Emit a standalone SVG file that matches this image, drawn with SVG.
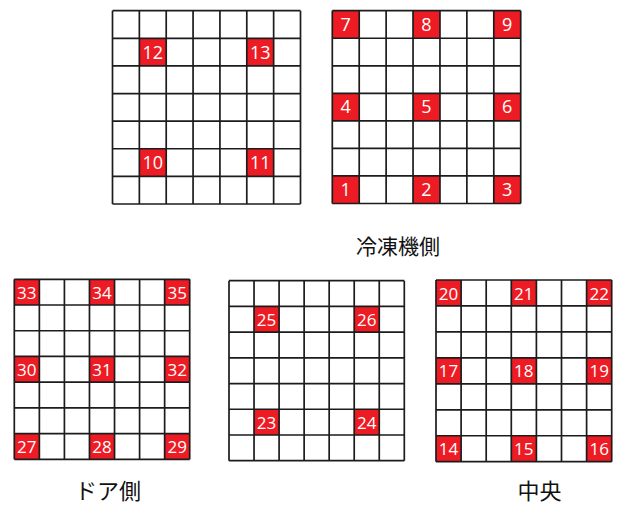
<svg xmlns="http://www.w3.org/2000/svg" width="617" height="505" viewBox="0 0 617 505">
<style>
.bg{fill:#ffffff}
.red{fill:#ED1C24}
.ln{fill:none;stroke:#1c1c1c;stroke-width:1.7}
.n{font-family:"Open Sans","Liberation Sans",sans-serif;fill:#ffffff;text-anchor:middle}
.n1{font-size:18px}
.n2{font-size:17px}
.lab{font-family:"Noto Sans CJK JP","Noto Sans CJK SC",sans-serif;font-size:21px;fill:#111;text-anchor:middle}
</style>
<rect width="617" height="505" fill="#ffffff"/>

<g id="grid-top-left">
<rect class="red" x="139.36" y="38.31" width="26.85" height="27.62"/>
<rect class="red" x="246.79" y="38.31" width="26.85" height="27.62"/>
<rect class="red" x="139.36" y="148.77" width="26.85" height="27.62"/>
<rect class="red" x="246.79" y="148.77" width="26.85" height="27.62"/>
<path class="ln" d="M112.5 10.7V204M139.36 10.7V204M166.21 10.7V204M193.07 10.7V204M219.93 10.7V204M246.79 10.7V204M273.64 10.7V204M300.5 10.7V204M112.5 10.7H300.5M112.5 38.31H300.5M112.5 65.93H300.5M112.5 93.54H300.5M112.5 121.16H300.5M112.5 148.77H300.5M112.5 176.39H300.5M112.5 204H300.5"/>
<text class="n n1" x="152.8" y="58.5">12</text>
<text class="n n1" x="260.2" y="58.5">13</text>
<text class="n n1" x="152.8" y="169">10</text>
<text class="n n1" x="260.2" y="169">11</text>
</g>

<g id="grid-top-right">
<rect class="red" x="332.3" y="10.7" width="26.91" height="27.54"/>
<rect class="red" x="413.04" y="10.7" width="26.92" height="27.54"/>
<rect class="red" x="493.79" y="10.7" width="26.91" height="27.54"/>
<rect class="red" x="332.3" y="93.33" width="26.91" height="27.54"/>
<rect class="red" x="413.04" y="93.33" width="26.92" height="27.54"/>
<rect class="red" x="493.79" y="93.33" width="26.91" height="27.54"/>
<rect class="red" x="332.3" y="175.96" width="26.91" height="27.54"/>
<rect class="red" x="413.04" y="175.96" width="26.92" height="27.54"/>
<rect class="red" x="493.79" y="175.96" width="26.91" height="27.54"/>
<path class="ln" d="M332.3 10.7V203.5M359.21 10.7V203.5M386.13 10.7V203.5M413.04 10.7V203.5M439.96 10.7V203.5M466.87 10.7V203.5M493.79 10.7V203.5M520.7 10.7V203.5M332.3 10.7H520.7M332.3 38.24H520.7M332.3 65.79H520.7M332.3 93.33H520.7M332.3 120.87H520.7M332.3 148.41H520.7M332.3 175.96H520.7M332.3 203.5H520.7"/>
<text class="n n1" x="345.76" y="30.8">7</text>
<text class="n n1" x="426.5" y="30.8">8</text>
<text class="n n1" x="507.25" y="30.8">9</text>
<text class="n n1" x="345.76" y="113.4">4</text>
<text class="n n1" x="426.5" y="113.4">5</text>
<text class="n n1" x="507.25" y="113.4">6</text>
<text class="n n1" x="345.76" y="196.3">1</text>
<text class="n n1" x="426.5" y="196.3">2</text>
<text class="n n1" x="507.25" y="196.3">3</text>
</g>

<g id="label-reito">
<text class="lab" x="398" y="253.5">冷凍機側</text>
</g>

<g id="grid-door">
<rect class="red" x="14.3" y="279.3" width="25.06" height="25.71"/>
<rect class="red" x="89.47" y="279.3" width="25.06" height="25.71"/>
<rect class="red" x="164.64" y="279.3" width="25.06" height="25.71"/>
<rect class="red" x="14.3" y="356.44" width="25.06" height="25.72"/>
<rect class="red" x="89.47" y="356.44" width="25.06" height="25.72"/>
<rect class="red" x="164.64" y="356.44" width="25.06" height="25.72"/>
<rect class="red" x="14.3" y="433.59" width="25.06" height="25.71"/>
<rect class="red" x="89.47" y="433.59" width="25.06" height="25.71"/>
<rect class="red" x="164.64" y="433.59" width="25.06" height="25.71"/>
<path class="ln" d="M14.3 279.3V459.3M39.36 279.3V459.3M64.41 279.3V459.3M89.47 279.3V459.3M114.53 279.3V459.3M139.59 279.3V459.3M164.64 279.3V459.3M189.7 279.3V459.3M14.3 279.3H189.7M14.3 305.01H189.7M14.3 330.73H189.7M14.3 356.44H189.7M14.3 382.16H189.7M14.3 407.87H189.7M14.3 433.59H189.7M14.3 459.3H189.7"/>
<text class="n n2" x="26.83" y="298.5">33</text>
<text class="n n2" x="102" y="298.5">34</text>
<text class="n n2" x="177.17" y="298.5">35</text>
<text class="n n2" x="26.83" y="375.5">30</text>
<text class="n n2" x="102" y="375.5">31</text>
<text class="n n2" x="177.17" y="375.5">32</text>
<text class="n n2" x="26.83" y="453">27</text>
<text class="n n2" x="102" y="453">28</text>
<text class="n n2" x="177.17" y="453">29</text>
</g>

<g id="label-door">
<text class="lab" x="108" y="498.5" style="font-size:22px">ドア側</text>
</g>

<g id="grid-middle">
<rect class="red" x="254.04" y="306.41" width="25.05" height="25.72"/>
<rect class="red" x="354.21" y="306.41" width="25.05" height="25.72"/>
<rect class="red" x="254.04" y="409.27" width="25.05" height="25.72"/>
<rect class="red" x="354.21" y="409.27" width="25.05" height="25.72"/>
<path class="ln" d="M229 280.7V460.7M254.04 280.7V460.7M279.09 280.7V460.7M304.13 280.7V460.7M329.17 280.7V460.7M354.21 280.7V460.7M379.26 280.7V460.7M404.3 280.7V460.7M229 280.7H404.3M229 306.41H404.3M229 332.13H404.3M229 357.84H404.3M229 383.56H404.3M229 409.27H404.3M229 434.99H404.3M229 460.7H404.3"/>
<text class="n n2" x="266.57" y="325.5">25</text>
<text class="n n2" x="366.74" y="325.5">26</text>
<text class="n n2" x="266.57" y="428.5">23</text>
<text class="n n2" x="366.74" y="428.5">24</text>
</g>

<g id="grid-center">
<rect class="red" x="436" y="280" width="25.1" height="25.96"/>
<rect class="red" x="511.3" y="280" width="25.1" height="25.96"/>
<rect class="red" x="586.6" y="280" width="25.1" height="25.96"/>
<rect class="red" x="436" y="357.87" width="25.1" height="25.96"/>
<rect class="red" x="511.3" y="357.87" width="25.1" height="25.96"/>
<rect class="red" x="586.6" y="357.87" width="25.1" height="25.96"/>
<rect class="red" x="436" y="435.74" width="25.1" height="25.96"/>
<rect class="red" x="511.3" y="435.74" width="25.1" height="25.96"/>
<rect class="red" x="586.6" y="435.74" width="25.1" height="25.96"/>
<path class="ln" d="M436 280V461.7M461.1 280V461.7M486.2 280V461.7M511.3 280V461.7M536.4 280V461.7M561.5 280V461.7M586.6 280V461.7M611.7 280V461.7M436 280H611.7M436 305.96H611.7M436 331.91H611.7M436 357.87H611.7M436 383.83H611.7M436 409.79H611.7M436 435.74H611.7M436 461.7H611.7"/>
<text class="n n2" x="448.55" y="299.5">20</text>
<text class="n n2" x="523.85" y="299.5">21</text>
<text class="n n2" x="599.15" y="299.5">22</text>
<text class="n n2" x="448.55" y="377.3">17</text>
<text class="n n2" x="523.85" y="377.3">18</text>
<text class="n n2" x="599.15" y="377.3">19</text>
<text class="n n2" x="448.55" y="455.2">14</text>
<text class="n n2" x="523.85" y="455.2">15</text>
<text class="n n2" x="599.15" y="455.2">16</text>
</g>

<g id="label-center">
<text class="lab" x="539.5" y="498.5" style="font-size:22px">中央</text>
</g>
</svg>
